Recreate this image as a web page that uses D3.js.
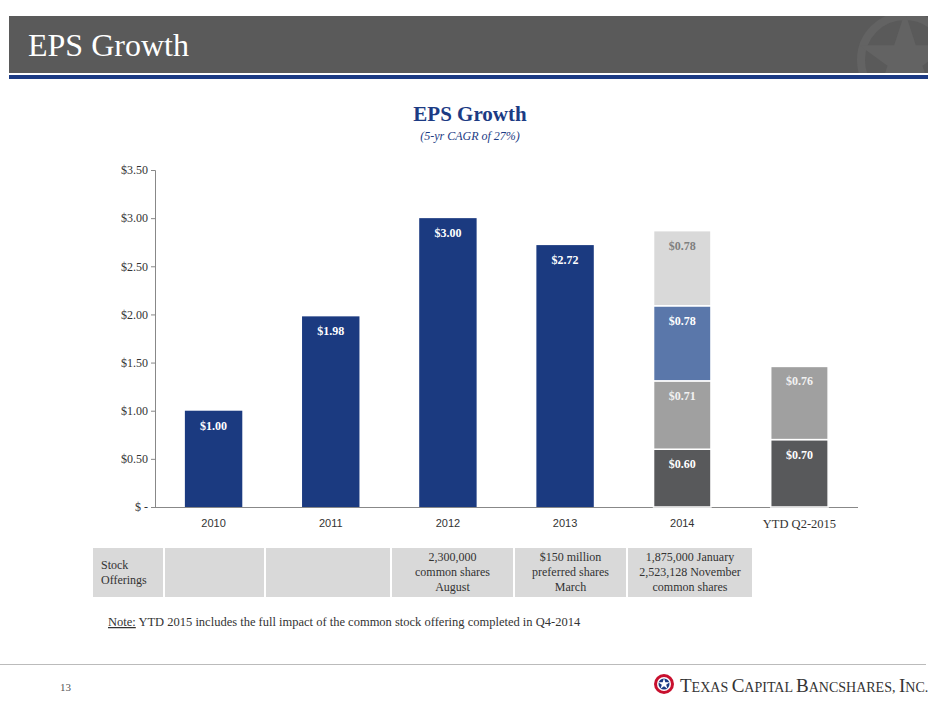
<!DOCTYPE html>
<html><head><meta charset="utf-8">
<script src="https://d3js.org/d3.v7.min.js"></script>
<style>body{margin:0;background:#fff}</style>
</head><body>
<svg id="c" width="940" height="705"></svg>
<script>
var categories = ["2010","2011","2012","2013","2014","YTD Q2-2015"];
var totals = [1.00, 1.98, 3.00, 2.72, null, null];
var seg2014 = [0.60, 0.71, 0.78, 0.78];
var segYtd = [0.70, 0.76];
var segColors = ["#58595b", "#a0a0a0", "#5a77aa", "#d9d9d9"];
var segText = ["#ffffff", "#f2f2f2", "#ffffff", "#7f7f7f"];
var yTicks = [0, 0.5, 1, 1.5, 2, 2.5, 3, 3.5];
var offerings = ["Stock Offerings", "", "", "2,300,000|common shares|August", "$150 million|preferred shares|March", "1,875,000 January|2,523,128  November|common shares"];

var serif = "'Liberation Serif','DejaVu Serif',serif";
var svg = d3.select("#c");

// header
svg.append("clipPath").attr("id","hc").append("rect").attr("x",9).attr("y",16).attr("width",919).attr("height",57);
svg.append("rect").attr("x",9).attr("y",16).attr("width",919).attr("height",57).attr("fill","#5a5a5a");
var wm = svg.append("g").attr("clip-path","url(#hc)");
wm.append("circle").attr("cx",905).attr("cy",60).attr("r",44).attr("fill","none").attr("stroke","#636363").attr("stroke-width",8);
wm.append("path").attr("d",d3.symbol().type(d3.symbolStar).size(2600)()).attr("transform","translate(905,60)").attr("fill","#636363");
svg.append("rect").attr("x",9).attr("y",75).attr("width",919).attr("height",4).attr("fill","#1c3b84");
svg.append("text").attr("x",28).attr("y",56).attr("fill","#fff").attr("font-family",serif).attr("font-size",32).text("EPS Growth");

svg.append("text").attr("x",470).attr("y",121).attr("text-anchor","middle").attr("fill","#1c3b84")
  .attr("font-family",serif).attr("font-size",21).attr("font-weight","bold").text("EPS Growth");
svg.append("text").attr("x",470).attr("y",140).attr("text-anchor","middle").attr("fill","#1c3b84")
  .attr("font-family",serif).attr("font-size",12).attr("font-style","italic").text("(5-yr CAGR of 27%)");

var x = d3.scaleBand().domain(categories).range([155, 858]).paddingInner(0.51).paddingOuter(0.255);
var y = d3.scaleLinear().domain([0, 3.5]).range([507, 170]);

var ax = svg.append("g").attr("transform","translate(155,0)")
  .call(d3.axisLeft(y).tickValues(yTicks).tickSize(4).tickFormat(function(d){return d===0?"$ -":"$"+d.toFixed(2);}));
ax.selectAll("text").attr("font-family",serif).attr("font-size",12).attr("fill","#333");
ax.selectAll("line,path").attr("stroke","#888");
ax.select(".domain").attr("d","M-4,170.5H0.5V507.5");

var bx = svg.append("g").attr("transform","translate(0,507)").call(d3.axisBottom(x).tickSize(0).tickPadding(12));
bx.select(".domain").attr("stroke","#888").attr("d","M155,0.5H858");
bx.selectAll("text").attr("font-family","'Liberation Sans',Arial,sans-serif").attr("font-size",11).attr("fill","#333");
bx.selectAll("text").filter(function(d){return d==="YTD Q2-2015";}).attr("font-family",serif).attr("font-size",12.5);

// simple bars
categories.forEach(function(c,i){
  if (totals[i]===null) return;
  svg.append("rect").attr("x",x(c)).attr("y",y(totals[i])).attr("width",x.bandwidth())
    .attr("height",y(0)-y(totals[i])).attr("fill","#1b3a80");
  svg.append("text").attr("x",x(c)+x.bandwidth()/2).attr("y",y(totals[i])+19).attr("text-anchor","middle")
    .attr("fill","#fff").attr("font-family",serif).attr("font-weight","bold").attr("font-size",12).text("$"+totals[i].toFixed(2));
});

function stack(cat, segs){
  var base = 0;
  segs.forEach(function(v,k){
    var top = base + v;
    svg.append("rect").attr("x",x(cat)).attr("y",y(top)).attr("width",x.bandwidth())
      .attr("height",y(base)-y(top)).attr("fill",segColors[k]).attr("stroke","#fff").attr("stroke-width",1.5);
    svg.append("text").attr("x",x(cat)+x.bandwidth()/2).attr("y",y(top)+19).attr("text-anchor","middle")
      .attr("fill",segText[k]).attr("font-family",serif).attr("font-weight","bold").attr("font-size",12).text("$"+v.toFixed(2));
    base = top;
  });
}
stack("2014", seg2014);
stack("YTD Q2-2015", segYtd);

// offerings table
var cellX = [93,165,266,392,515,628], cellW = [70,99,124,121,111,124];
offerings.forEach(function(t,i){
  svg.append("rect").attr("x",cellX[i]).attr("y",548).attr("width",cellW[i]).attr("height",49).attr("fill","#d9d9d9");
  var lines = t.split("|");
  if (i===0) lines = ["Stock","Offerings"];
  var tx = svg.append("text").attr("font-family",serif).attr("font-size",12).attr("fill","#333")
    .attr("text-anchor", i===0?"start":"middle");
  var y0 = i===0 ? 569 : 561;
  lines.forEach(function(l,j){
    tx.append("tspan").attr("x", i===0?cellX[i]+8:cellX[i]+cellW[i]/2).attr("y",y0+j*15).text(l);
  });
});

var note = svg.append("text").attr("x",108).attr("y",626).attr("font-family",serif).attr("font-size",12.5).attr("fill","#333");
note.append("tspan").attr("text-decoration","underline").text("Note:");
note.append("tspan").text(" YTD 2015 includes the full impact of the common stock offering completed in Q4-2014");

// footer
svg.append("line").attr("x1",0).attr("x2",926).attr("y1",664.5).attr("y2",664.5).attr("stroke","#bbb");
svg.append("text").attr("x",60).attr("y",691).attr("font-family",serif).attr("font-size",11).attr("fill","#555").text("13");
var lg = svg.append("g").attr("transform","translate(664,684)");
lg.append("circle").attr("r",10).attr("fill","#c8102e");
lg.append("circle").attr("r",7).attr("fill","#fff");
lg.append("circle").attr("r",5.5).attr("fill","#1c3b84");
var star = d3.symbol().type(d3.symbolStar).size(40)();
lg.append("path").attr("d",star).attr("fill","#fff");
var lt = svg.append("text").attr("x",680).attr("y",692).attr("font-family",serif).attr("fill","#333").attr("font-size",14);
lt.append("tspan").attr("font-size",19).text("T");
lt.append("tspan").text("EXAS ");
lt.append("tspan").attr("font-size",19).text("C");
lt.append("tspan").text("APITAL ");
lt.append("tspan").attr("font-size",19).text("B");
lt.append("tspan").text("ANCSHARES, ");
lt.append("tspan").attr("font-size",19).text("I");
lt.append("tspan").text("NC.");
</script>
</body></html>
